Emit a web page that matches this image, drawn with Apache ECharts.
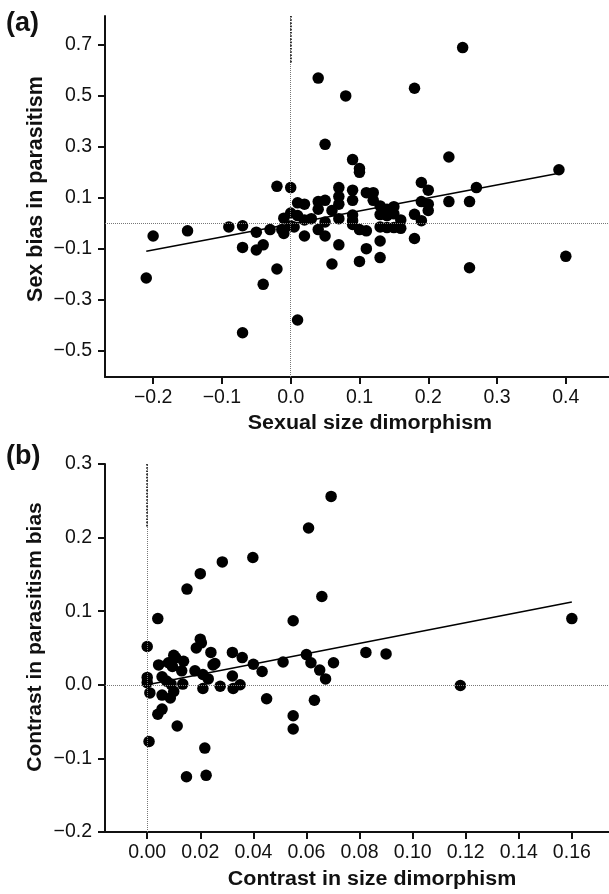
<!DOCTYPE html>
<html>
<head>
<meta charset="utf-8">
<script src="https://cdn.jsdelivr.net/npm/echarts@6/dist/echarts.min.js"></script>
<style>
html,body{margin:0;padding:0;background:#fff;}
#chart{width:609px;height:894px;}
</style>
</head>
<body>
<div id="chart"></div>
<script>
// Panel (a): sexual size dimorphism vs sex bias in parasitism
const sizeDimA = [0.25,0.04,0.08,0.18,0.05,0.09,0.10,0.10,0.23,0.39,0.27,-0.02,0.0,0.19,0.20,0.40,0.26,-0.21,-0.04,0.01,-0.07,-0.02,0.06,0.10,0.13,0.11,0.07,-0.07,-0.04,-0.05,0.13,0.18,-0.20,-0.15,-0.09,-0.07,-0.05,-0.03,0.23,0.26,0.19,0.20,0.20,0.18,0.19,0.07,0.09,0.11,0.12,0.07,0.01,0.02,0.04,0.05,0.07,0.09,0.12,0.04,0.06,0.0,0.01,-0.01,0.02,0.03,0.05,0.07,0.09,0.09,0.09,0.10,0.11,-0.01,0.0,0.005,-0.013,0.02,0.04,0.05,0.13,0.14,0.15,0.13,0.14,0.15,0.16,0.13,0.14,0.15,0.16];
const sexBiasA = [0.69,0.57,0.50,0.53,0.31,0.25,0.215,0.20,0.26,0.21,0.14,0.145,0.14,0.16,0.13,-0.13,-0.175,-0.215,-0.24,-0.38,-0.43,-0.18,-0.16,-0.15,-0.135,-0.10,-0.085,-0.095,-0.085,-0.105,-0.07,-0.06,-0.05,-0.03,-0.015,-0.01,-0.035,-0.025,0.085,0.085,0.085,0.075,0.05,0.035,0.01,0.14,0.13,0.12,0.12,0.105,0.08,0.075,0.085,0.09,0.075,0.09,0.09,0.055,0.05,0.04,0.03,0.02,0.013,0.018,0.005,0.018,0.032,0.01,-0.005,-0.025,-0.03,-0.04,-0.01,-0.015,-0.025,-0.05,-0.025,-0.05,0.068,0.055,0.065,0.034,0.03,0.037,0.013,-0.015,-0.017,-0.017,-0.02];
const fitXA = [-0.21, 0.39];
const fitYA = [-0.11, 0.196];
const xTicksA = [-0.2,-0.1,0.0,0.1,0.2,0.3,0.4];
const yTicksA = [-0.5,-0.3,-0.1,0.1,0.3,0.5,0.7];

// Panel (b): contrasts
const contrastSizeB = [0.0693,0.0608,0.0398,0.0283,0.02,0.015,0.0658,0.004,0.055,0.16,0.0,0.02,0.0204,0.0185,0.024,0.0321,0.0358,0.01,0.0107,0.008,0.0137,0.0095,0.0043,0.013,0.018,0.0248,0.0255,0.04,0.0433,0.0512,0.06,0.0617,0.0702,0.065,0.0672,0.0824,0.09,0.118,0.0321,0.0324,0.035,0.0275,0.021,0.023,0.021,0.0134,0.0,0.0,0.001,0.0056,0.0073,0.0056,0.0087,0.01,0.009,0.004,0.0056,0.0113,0.045,0.055,0.055,0.063,0.0007,0.0217,0.0148,0.0222];
const contrastBiasB = [0.256,0.213,0.173,0.167,0.151,0.13,0.12,0.09,0.087,0.09,0.052,0.062,0.057,0.05,0.044,0.044,0.037,0.04,0.037,0.03,0.032,0.025,0.027,0.019,0.019,0.027,0.029,0.028,0.018,0.031,0.041,0.03,0.03,0.02,0.008,0.044,0.042,-0.001,0.012,-0.005,0.0,-0.002,0.014,0.008,-0.005,0.001,0.01,0.003,-0.011,0.011,0.005,-0.014,-0.018,-0.009,0.001,-0.04,-0.033,-0.056,-0.019,-0.042,-0.06,-0.021,-0.077,-0.086,-0.125,-0.123];
const fitXB = [0.0, 0.16];
const fitYB = [0.0, 0.1125];
const xTicksB = [0.00,0.02,0.04,0.06,0.08,0.10,0.12,0.14,0.16];
const yTicksB = [-0.2,-0.1,0.0,0.1,0.2,0.3];

const FONT = '"Liberation Sans", Arial, sans-serif';
function fmt(dec){ return v => (v < -1e-9 ? '\u2212' : '') + Math.abs(v).toFixed(dec); }

function xAxisCfg(idx, min, max, ticks, dec){
  return {
    type:'value', gridIndex:idx, min:min, max:max,
    splitLine:{show:false},
    axisLine:{show:true, onZero:false, lineStyle:{color:'#111', width:2}},
    axisTick:{show:true, inside:false, length:7, lineStyle:{color:'#111', width:2}, customValues:ticks},
    axisLabel:{show:true, margin:11, fontFamily:FONT, fontSize:19.5, color:'#111', customValues:ticks, formatter:fmt(dec)}
  };
}
function yAxisCfg(idx, min, max, ticks, dec){
  return {
    type:'value', gridIndex:idx, min:min, max:max,
    splitLine:{show:false},
    axisLine:{show:true, onZero:false, lineStyle:{color:'#111', width:2}},
    axisTick:{show:true, inside:false, length:7, lineStyle:{color:'#111', width:2}, customValues:ticks},
    axisLabel:{show:true, margin:13, fontFamily:FONT, fontSize:19.5, color:'#111', customValues:ticks, formatter:fmt(dec)}
  };
}

const yTopA = 0.814, yBotA = -0.604, xLeftA = -0.270;
const yTopB = 0.3, xLeftB = -0.0159;

const refLine = {type:'dotted', color:'#777', width:1};
const darkRef = {type:'dotted', color:'#111', width:1.6};
const DOT = 11.5;

const option = {
  animation:false,
  backgroundColor:'#fff',
  grid:[
    {left:105, top:16, width:504, height:361},
    {left:105, top:464, width:504, height:368}
  ],
  xAxis:[
    xAxisCfg(0, xLeftA, 0.4628, xTicksA, 1),
    xAxisCfg(1, xLeftB, 0.174, xTicksB, 2)
  ],
  yAxis:[
    yAxisCfg(0, yBotA, yTopA, yTicksA, 1),
    yAxisCfg(1, -0.2, yTopB, yTicksB, 1)
  ],
  series:[
    {
      type:'scatter', xAxisIndex:0, yAxisIndex:0, symbolSize:DOT,
      itemStyle:{color:'#000', opacity:1},
      data: sizeDimA.map((x,i)=>[x, sexBiasA[i]]),
      markLine:{
        silent:true, symbol:['none','none'], label:{show:false},
        data:[
          {xAxis:0, lineStyle:refLine},
          {yAxis:0, lineStyle:refLine},
          [{coord:[0, yTopA], lineStyle:darkRef}, {coord:[0, 0.63]}]
        ]
      },
      z:3
    },
    {
      type:'line', xAxisIndex:0, yAxisIndex:0, showSymbol:false,
      lineStyle:{color:'#000', width:1.6},
      data: fitXA.map((x,i)=>[x, fitYA[i]]), z:4
    },
    {
      type:'scatter', xAxisIndex:1, yAxisIndex:1, symbolSize:DOT,
      itemStyle:{color:'#000', opacity:1},
      data: contrastSizeB.map((x,i)=>[x, contrastBiasB[i]]),
      markLine:{
        silent:true, symbol:['none','none'], label:{show:false},
        data:[
          {xAxis:0, lineStyle:refLine},
          {yAxis:0, lineStyle:refLine},
          [{coord:[0, yTopB], lineStyle:darkRef}, {coord:[0, 0.213]}]
        ]
      },
      z:3
    },
    {
      type:'line', xAxisIndex:1, yAxisIndex:1, showSymbol:false,
      lineStyle:{color:'#000', width:1.6},
      data: fitXB.map((x,i)=>[x, fitYB[i]]), z:4
    }
  ],
  graphic:[
    {type:'text', x:6, y:24, style:{text:'(a)', font:'bold 27px ' + FONT, fill:'#111', textVerticalAlign:'middle'}},
    {type:'text', x:6, y:457, style:{text:'(b)', font:'bold 27px ' + FONT, fill:'#111', textVerticalAlign:'middle'}},
    {type:'text', x:370, y:424, scaleX:1.1, style:{text:'Sexual size dimorphism', font:'bold 19.5px ' + FONT, fill:'#111', textAlign:'center', textVerticalAlign:'middle'}},
    {type:'text', x:372, y:880, scaleX:1.1, style:{text:'Contrast in size dimorphism', font:'bold 19.5px ' + FONT, fill:'#111', textAlign:'center', textVerticalAlign:'middle'}},
    {type:'text', x:36, y:189, rotation:Math.PI/2, style:{text:'Sex bias in parasitism', font:'bold 21.5px ' + FONT, fill:'#111', textAlign:'center', textVerticalAlign:'middle'}},
    {type:'text', x:35, y:637, rotation:Math.PI/2, style:{text:'Contrast in parasitism bias', font:'bold 21px ' + FONT, fill:'#111', textAlign:'center', textVerticalAlign:'middle'}}
  ]
};

const chart = echarts.init(document.getElementById('chart'), null, {renderer:'canvas'});
chart.setOption(option);
</script>
</body>
</html>
